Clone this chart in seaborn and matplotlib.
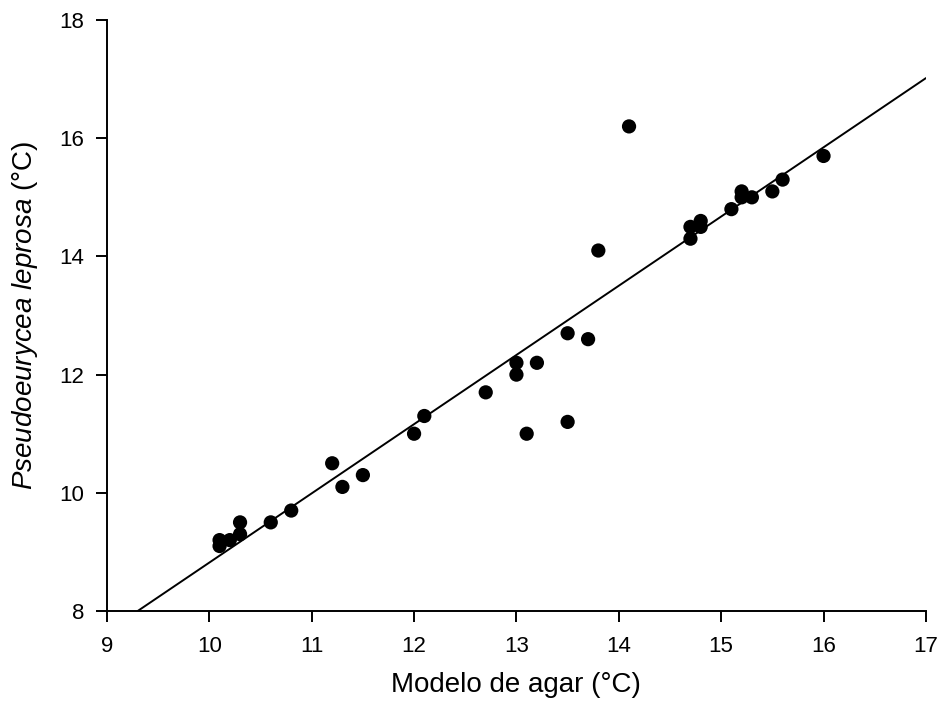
import numpy as np
import pandas as pd
import seaborn as sns
import matplotlib
matplotlib.use("Agg")
import matplotlib.pyplot as plt

# Agar model temperature vs. body temperature of Pseudoeurycea leprosa (°C)
agar_temp = [10.1, 10.1, 10.2, 10.3, 10.3, 10.6, 10.8, 11.2, 11.3, 11.5,
             12.0, 12.1, 12.7, 13.0, 13.0, 13.1, 13.2, 13.5, 13.5, 13.7,
             13.8, 14.1, 14.7, 14.7, 14.8, 14.8, 15.1, 15.2, 15.2, 15.3,
             15.5, 15.6, 16.0]
body_temp = [9.2, 9.1, 9.2, 9.5, 9.3, 9.5, 9.7, 10.5, 10.1, 10.3,
             11.0, 11.3, 11.7, 12.2, 12.0, 11.0, 12.2, 12.7, 11.2, 12.6,
             14.1, 16.2, 14.5, 14.3, 14.6, 14.5, 14.8, 15.1, 15.0, 15.0,
             15.1, 15.3, 15.7]

# Fitted line (slope, intercept) and its x extent
fit_slope = 1.171
fit_intercept = -2.89
fit_x_range = [9.3, 17.0]

x_ticks = [9, 10, 11, 12, 13, 14, 15, 16, 17]
y_ticks = [8, 10, 12, 14, 16, 18]

df = pd.DataFrame({"agar": agar_temp, "body": body_temp})
fit_x = np.array(fit_x_range)
fit_df = pd.DataFrame({"x": fit_x, "y": fit_slope * fit_x + fit_intercept})

sns.set_theme(style="ticks")
plt.rcParams["font.family"] = ["Liberation Sans", "DejaVu Sans"]
plt.rcParams["mathtext.fontset"] = "custom"
plt.rcParams["mathtext.rm"] = "Liberation Sans"
plt.rcParams["mathtext.it"] = "Liberation Sans:italic"

fig = plt.figure(figsize=(9.4, 7.1), dpi=100)
ax = fig.add_axes([0.1138, 0.1394, 0.8712, 0.8324])

sns.lineplot(data=fit_df, x="x", y="y", ax=ax, color="black", linewidth=1.4)
sns.scatterplot(data=df, x="agar", y="body", ax=ax, color="black",
                s=105, edgecolor="none", zorder=3)

ax.set_xlim(9, 17)
ax.set_ylim(8, 18)
ax.set_xticks(x_ticks)
ax.set_yticks(y_ticks)
ax.tick_params(axis="both", direction="out", length=8, width=1.4,
               labelsize=16, color="black", labelcolor="black")
ax.tick_params(axis="x", pad=10)
ax.tick_params(axis="y", pad=8.5)
for side in ("left", "bottom"):
    ax.spines[side].set_linewidth(1.4)
    ax.spines[side].set_color("black")
sns.despine(ax=ax)

ax.set_xlabel("Modelo de agar (°C)", fontsize=20, labelpad=11, color="black")
ax.set_ylabel(r"$\mathit{Pseudoeurycea\ leprosa}$ (°C)", fontsize=20,
              labelpad=14, color="black")

fig.savefig("out.png", dpi=100)
